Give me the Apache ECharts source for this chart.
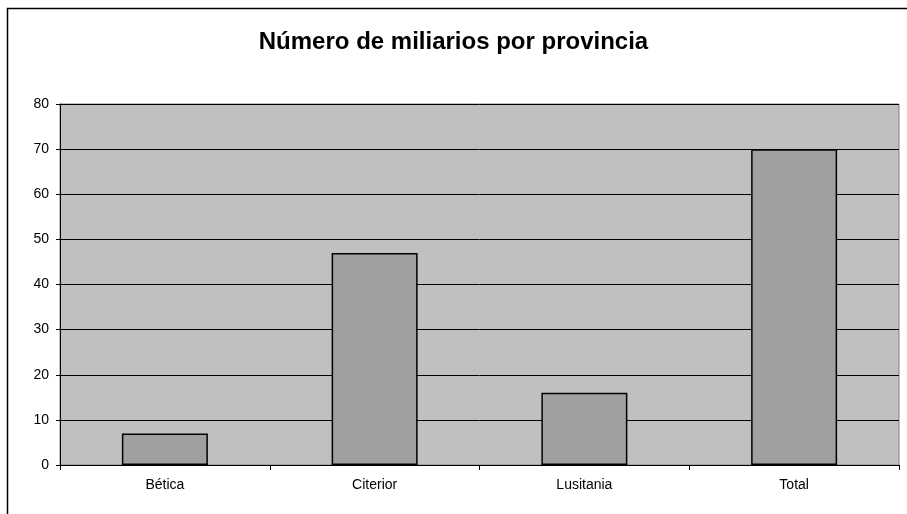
<!DOCTYPE html>
<html>
<head>
<meta charset="utf-8">
<script src="https://cdn.jsdelivr.net/npm/echarts@6/dist/echarts.min.js"></script>
<style>
html,body{margin:0;padding:0;background:#fff;}
#chart{width:907px;height:514px;}
</style>
</head>
<body>
<div id="chart"></div>
<script>
var categories = ['Bética', 'Citerior', 'Lusitania', 'Total'];
var values = [7, 47, 16, 70];
var yTicks = [0, 10, 20, 30, 40, 50, 60, 70, 80];

var chart = echarts.init(document.getElementById('chart'));
var font = '"Liberation Sans", Arial, sans-serif';
chart.setOption({
  animation: false,
  backgroundColor: '#ffffff',
  textStyle: { fontFamily: font },
  title: {
    text: 'Número de miliarios por provincia',
    left: 'center',
    top: 25,
    textStyle: { fontFamily: font, fontSize: 24, fontWeight: 'bold', color: '#000' }
  },
  graphic: [{
    type: 'rect',
    shape: { x: 7.5, y: 8.5, width: 1000, height: 1000 },
    style: { fill: 'none', stroke: '#000', lineWidth: 1.5 },
    silent: true
  }],
  grid: {
    left: 60, top: 104, right: 8, bottom: 49,
    show: true, backgroundColor: '#C0C0C0', borderColor: '#808080', borderWidth: 1
  },
  xAxis: {
    type: 'category',
    data: categories,
    axisLine: { lineStyle: { color: '#000', width: 1 } },
    axisTick: { show: true, length: 5, lineStyle: { color: '#000' } },
    axisLabel: { color: '#000', fontSize: 14, margin: 13, fontFamily: font }
  },
  yAxis: {
    type: 'value',
    min: yTicks[0],
    max: yTicks[yTicks.length - 1],
    interval: yTicks[1] - yTicks[0],
    axisLine: { show: true, lineStyle: { color: '#000', width: 1 } },
    axisTick: { show: true, length: 4, lineStyle: { color: '#000' } },
    axisLabel: { color: '#000', fontSize: 14, margin: 11, fontFamily: font },
    splitLine: { show: true, lineStyle: { color: '#000', width: 1 } }
  },
  series: [{
    type: 'bar',
    data: values,
    barWidth: '41%',
    itemStyle: { color: '#A0A0A0', borderColor: '#000', borderWidth: 1.5 }
  }]
});
</script>
</body>
</html>
